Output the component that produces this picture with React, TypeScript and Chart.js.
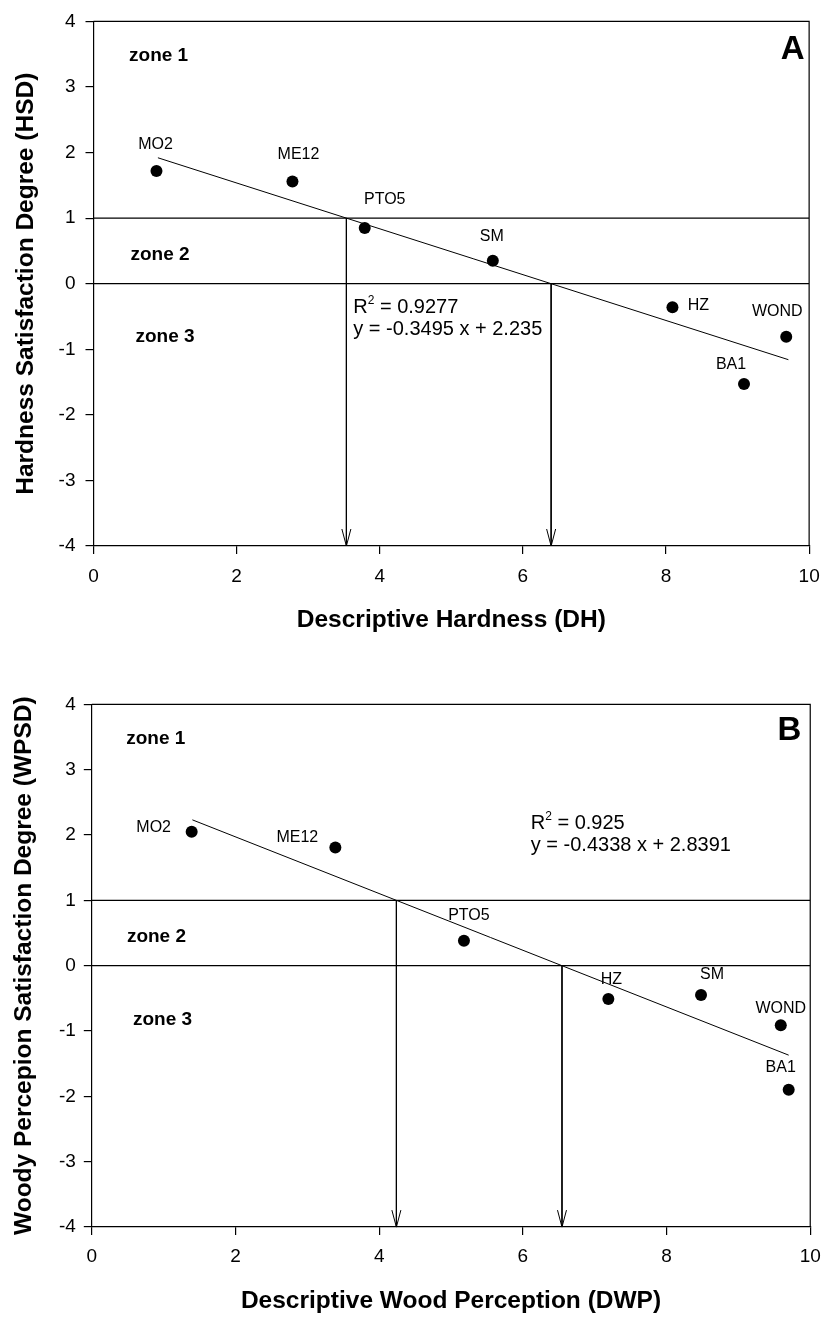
import React, { useEffect, useRef } from 'react';
import { Chart, registerables } from 'chart.js';

Chart.register(...registerables);

const FONT = "'Liberation Sans', Arial, Helvetica, sans-serif";

// ---------- Panel A data ----------
const samplesA = ['MO2', 'ME12', 'PTO5', 'SM', 'HZ', 'WOND', 'BA1'];
const dhA = [0.88, 2.78, 3.79, 5.58, 8.09, 9.68, 9.09];
const hsdA = [1.72, 1.56, 0.85, 0.35, -0.36, -0.81, -1.53];
const slopeA = -0.3495;
const interceptA = 2.235;
const r2A = '0.9277';
const fitRangeA = [0.9, 9.71];

// ---------- Panel B data ----------
const samplesB = ['MO2', 'ME12', 'PTO5', 'HZ', 'SM', 'WOND', 'BA1'];
const dwpB = [1.39, 3.39, 5.18, 7.19, 8.48, 9.59, 9.7];
const wpsdB = [2.05, 1.81, 0.38, -0.51, -0.45, -0.91, -1.9];
const slopeB = -0.4338;
const interceptB = 2.8391;
const r2B = '0.925';
const fitRangeB = [1.4, 9.7];

// ---------- shared axes ----------
const xRange = [0, 10];
const xStep = 2;
const yRange = [-4, 4];
const yStep = 1;
const zoneLimits = [1, 0];
const zoneNames = ['zone 1', 'zone 2', 'zone 3'];

// ---------- styling / annotation placement (not data) ----------
const labelOffsetsA: [number, number][] = [[-1, -26], [6, -27], [20, -28], [-1, -24], [26, -2], [-9, -25], [-13, -19]];
const labelOffsetsB: [number, number][] = [[-38, -4], [-38, -10], [5, -25], [3, -19], [11, -21], [0, -17], [-8, -22]];
const zonePosA: [number, number][] = [[0.91, 3.47], [0.93, 0.445], [1.0, -0.81]];
const zonePosB: [number, number][] = [[0.89, 3.48], [0.9, 0.44], [0.985, -0.82]];

type Panel = {
  samples: string[]; xs: number[]; ys: number[];
  slope: number; intercept: number; r2: string; fitRange: number[];
  xTitle: string; yTitle: string; letter: string;
  letterPos: [number, number]; eqPos: [number, number];
  labelOffsets: [number, number][]; zonePos: [number, number][];
  width: number; height: number; top: number;
  areaLeft: number; areaTop: number; areaRightPad: number; xAxisHeight: number;
  yTitlePad: number; xTitlePad: number; xTickPad: number; yTickPad: number;
};

const panelA: Panel = {
  samples: samplesA, xs: dhA, ys: hsdA, slope: slopeA, intercept: interceptA, r2: r2A, fitRange: fitRangeA,
  xTitle: 'Descriptive Hardness (DH)', yTitle: 'Hardness Satisfaction Degree (HSD)', letter: 'A',
  letterPos: [9.77, 3.56], eqPos: [3.63, -0.37],
  labelOffsets: labelOffsetsA, zonePos: zonePosA,
  width: 831, height: 650, top: 0,
  areaLeft: 93.5, areaTop: 14.7, areaRightPad: 20, xAxisHeight: 104,
  yTitlePad: 11.3, xTitlePad: 14.6, xTickPad: 11.3, yTickPad: 10,
};

const panelB: Panel = {
  samples: samplesB, xs: dwpB, ys: wpsdB, slope: slopeB, intercept: interceptB, r2: r2B, fitRange: fitRangeB,
  xTitle: 'Descriptive Wood Perception (DWP)', yTitle: 'Woody Percepion Satisfaction Degree (WPSD)', letter: 'B',
  letterPos: [9.71, 3.6], eqPos: [6.11, 2.18],
  labelOffsets: labelOffsetsB, zonePos: zonePosB,
  width: 831, height: 657, top: 660,
  areaLeft: 91.8, areaTop: 44.3, areaRightPad: 11.7, xAxisHeight: 89.9,
  yTitlePad: 9.3, xTitlePad: 0.6, xTickPad: 10.2, yTickPad: 8,
};

function makeConfig(p: Panel): any {
  const cross1 = (zoneLimits[0] - p.intercept) / p.slope;
  const cross0 = (zoneLimits[1] - p.intercept) / p.slope;
  const points = p.xs.map((x, i) => ({ x, y: p.ys[i] }));
  const fit = p.fitRange.map((x) => ({ x, y: p.slope * x + p.intercept }));
  const lineDs = (data: any[], width: number) => ({
    type: 'line', data, showLine: true, borderColor: '#000', borderWidth: width,
    pointRadius: 0, pointHoverRadius: 0, fill: false, tension: 0,
  });
  const drops = [cross1, cross0];

  const annot = {
    id: 'annot',
    afterDatasetsDraw(chart: any) {
      const { ctx, chartArea, scales } = chart;
      const xs = scales.x, ys = scales.y;
      ctx.save();
      // frame
      ctx.strokeStyle = '#000';
      ctx.lineWidth = 1.2;
      ctx.beginPath();
      ctx.moveTo(chartArea.left, chartArea.top);
      ctx.lineTo(chartArea.right, chartArea.top);
      ctx.lineTo(chartArea.right, chartArea.bottom);
      ctx.stroke();
      // arrow heads
      ctx.lineWidth = 1;
      drops.forEach((xv) => {
        const px = xs.getPixelForValue(xv);
        const py = ys.getPixelForValue(yRange[0]);
        ctx.beginPath();
        ctx.moveTo(px - 4.5, py - 17);
        ctx.lineTo(px, py);
        ctx.lineTo(px + 4.5, py - 17);
        ctx.stroke();
      });
      ctx.fillStyle = '#000';
      ctx.textBaseline = 'middle';
      // point labels
      const meta = chart.getDatasetMeta(0);
      ctx.font = `16px ${FONT}`;
      ctx.textAlign = 'center';
      p.samples.forEach((s, i) => {
        const el = meta.data[i];
        const off = p.labelOffsets[i];
        ctx.fillText(s, el.x + off[0], el.y + off[1]);
      });
      // zone labels
      ctx.font = `bold 19px ${FONT}`;
      zoneNames.forEach((z, i) => {
        const [zx, zy] = p.zonePos[i];
        ctx.fillText(z, xs.getPixelForValue(zx), ys.getPixelForValue(zy));
      });
      // panel letter
      ctx.font = `bold 33px ${FONT}`;
      ctx.fillText(p.letter, xs.getPixelForValue(p.letterPos[0]), ys.getPixelForValue(p.letterPos[1]));
      // equation
      ctx.textAlign = 'left';
      const ex = xs.getPixelForValue(p.eqPos[0]);
      const ey = ys.getPixelForValue(p.eqPos[1]);
      ctx.font = `20px ${FONT}`;
      ctx.fillText('R', ex, ey);
      const wR = ctx.measureText('R').width;
      ctx.font = `12px ${FONT}`;
      ctx.fillText('2', ex + wR, ey - 7);
      const w2 = ctx.measureText('2').width;
      ctx.font = `20px ${FONT}`;
      ctx.fillText(` = ${p.r2}`, ex + wR + w2, ey);
      ctx.fillText(`y = ${p.slope} x + ${p.intercept}`, ex, ey + 22);
      ctx.restore();
    },
  };

  const axisCommon = {
    type: 'linear',
    grid: { display: true, drawOnChartArea: false, drawTicks: true, tickLength: 8, color: '#000', lineWidth: 1.2 },
    border: { display: true, color: '#000', width: 1.2 },
  };

  return {
    type: 'scatter',
    data: {
      datasets: [
        { data: points, backgroundColor: '#000', borderColor: '#000', pointRadius: 6, pointHoverRadius: 6, borderWidth: 0, showLine: false },
        lineDs(fit, 1),
        lineDs([{ x: xRange[0], y: zoneLimits[0] }, { x: xRange[1], y: zoneLimits[0] }], 1.3),
        lineDs([{ x: xRange[0], y: zoneLimits[1] }, { x: xRange[1], y: zoneLimits[1] }], 1.3),
        lineDs([{ x: cross1, y: zoneLimits[0] }, { x: cross1, y: yRange[0] }], 1),
        lineDs([{ x: cross0, y: zoneLimits[1] }, { x: cross0, y: yRange[0] }], 1),
      ],
    },
    options: {
      responsive: false,
      animation: false,
      devicePixelRatio: 1,
      layout: { padding: { left: 0, top: p.areaTop, right: p.areaRightPad, bottom: 0 } },
      plugins: { legend: { display: false }, tooltip: { enabled: false }, title: { display: false } },
      events: [],
      scales: {
        x: {
          ...axisCommon,
          position: 'bottom',
          min: xRange[0], max: xRange[1],
          ticks: { stepSize: xStep, color: '#000', padding: p.xTickPad, font: { family: FONT, size: 19 } },
          title: { display: true, text: p.xTitle, color: '#000', padding: { top: 0, bottom: p.xTitlePad }, font: { family: FONT, size: 24.5, weight: 'bold' } },
          afterFit: (s: any) => { s.height = p.xAxisHeight; },
        },
        y: {
          ...axisCommon,
          position: 'left',
          min: yRange[0], max: yRange[1],
          ticks: { stepSize: yStep, color: '#000', padding: p.yTickPad, font: { family: FONT, size: 19 } },
          title: { display: true, text: p.yTitle, color: '#000', padding: { top: p.yTitlePad, bottom: 0 }, font: { family: FONT, size: 24.5, weight: 'bold' } },
          afterFit: (s: any) => { s.width = p.areaLeft; },
        },
      },
    },
    plugins: [annot],
  };
}

function PanelChart({ p }: { p: Panel }) {
  const ref = useRef<HTMLCanvasElement | null>(null);
  useEffect(() => {
    if (!ref.current) return;
    const chart = new Chart(ref.current, makeConfig(p));
    return () => chart.destroy();
  }, [p]);
  return (
    <canvas
      ref={ref}
      width={p.width}
      height={p.height}
      style={{ position: 'absolute', left: 0, top: p.top, width: p.width, height: p.height, display: 'block' }}
    />
  );
}

export default function App() {
  return (
    <div style={{ position: 'absolute', left: 0, top: 0, width: 831, height: 1317, background: '#fff', overflow: 'hidden' }}>
      <PanelChart p={panelA} />
      <PanelChart p={panelB} />
    </div>
  );
}
